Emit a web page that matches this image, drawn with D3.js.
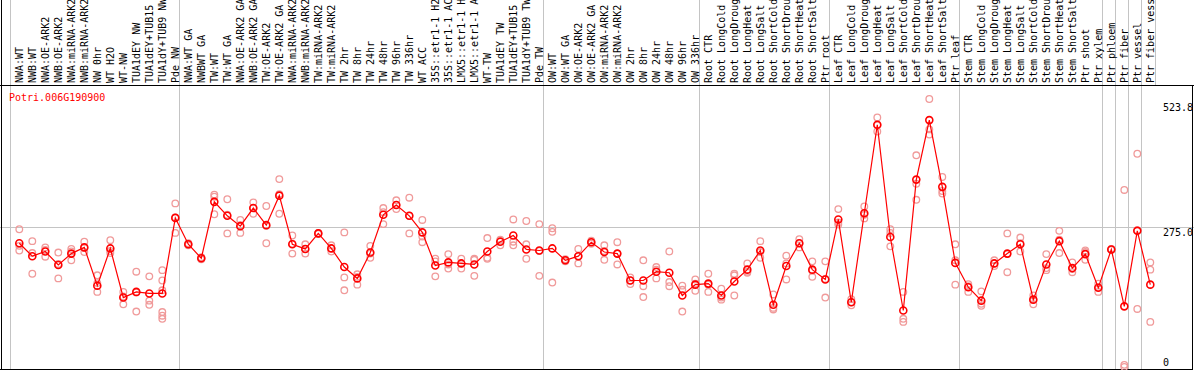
<!DOCTYPE html>
<html>
<head>
<meta charset="utf-8">
<script src="https://cdn.jsdelivr.net/npm/d3@7"></script>
<style>
  html, body { margin: 0; padding: 0; background: #fff; }
  svg { display: block; font-family: "DejaVu Sans Mono", monospace; }
</style>
</head>
<body>
<svg id="chart" width="1194" height="370"></svg>
<script>
const geneName = "Potri.006G190900";

const samples = [
  "NWA:WT", "NWB:WT", "NWA:OE-ARK2", "NWB:OE-ARK2", "NWA:miRNA-ARK2", "NWB:miRNA-ARK2",
  "NW 0hr", "WT H2O", "WT-NW", "TUA1dEY NW", "TUA1dEY+TUB15 NW", "TUA1dY+TUB9 NW", "Pde NW",
  "NWA:WT GA", "NWBWT GA", "TW:WT", "TW:WT GA", "NWA:OE-ARK2 GA", "NWB:OE-ARK2 GA",
  "TW:OE-ARK2", "TW:OE-ARK2 GA", "NWA:miRNA-ARK2 GA", "NWB:miRNA-ARK2 GA", "TW:miRNA-ARK2",
  "TW:miRNA-ARK2 GA", "TW 2hr", "TW 8hr", "TW 24hr", "TW 48hr", "TW 96hr", "TW 336hr",
  "WT ACC", "35S::etr1-1 H2O", "35S::etr1-1 ACC", "LMX5::etr1-1 H2O", "LMX5::etr1-1 ACC",
  "WT-TW", "TUA1dEY TW", "TUA1dEY+TUB15 TW", "TUA1dY+TUB9 TW", "Pde TW",
  "OW:WT", "OW:WT GA", "OW:OE-ARK2", "OW:OE-ARK2 GA", "OW:miRNA-ARK2", "OW:miRNA-ARK2 GA",
  "OW 2hr", "OW 8hr", "OW 24hr", "OW 48hr", "OW 96hr", "OW 336hr",
  "Root CTR", "Root LongCold", "Root LongDrought", "Root LongHeat", "Root LongSalt",
  "Root ShortCold", "Root ShortDrought", "Root ShortHeat", "Root ShortSalt", "Ptr root",
  "Leaf CTR", "Leaf LongCold", "Leaf LongDrought", "Leaf LongHeat", "Leaf LongSalt",
  "Leaf ShortCold", "Leaf ShortDrought", "Leaf ShortHeat", "Leaf ShortSalt", "Ptr leaf",
  "Stem CTR", "Stem LongCold", "Stem LongDrought", "Stem LongHeat", "Stem LongSalt",
  "Stem ShortCold", "Stem ShortDrought", "Stem ShortHeat", "Stem ShortSalt", "Ptr shoot",
  "Ptr xylem", "Ptr phloem", "Ptr fiber", "Ptr vessel", "Ptr fiber vessel"
];

// number of samples in each experiment block
const groupSizes = [13, 28, 12, 10, 10, 11, 1, 1, 1, 1];

const means = [
  245, 220, 229, 203, 225, 237, 163, 235, 140, 151, 148, 148, 294,
  243, 216, 325, 298, 278, 313, 280, 337, 243, 234, 264, 235, 199, 177, 227, 300, 319, 298,
  266, 202, 208, 206, 204, 229, 248, 260, 233, 231,
  235, 212, 220, 247, 228, 225, 173, 173, 190, 188, 144, 165,
  167, 144, 171, 194, 231, 126, 201, 245, 194, 175,
  291, 131, 303, 474, 257, 115, 368, 483, 354, 207,
  160, 134, 206, 225, 243, 136, 204, 249, 197, 224, 159,
  233, 123, 269, 165
];

const replicates = [
  [272, 231, 240], [249, 226, 186], [237, 219, 232], [227, 177, 205], [234, 212, 229],
  [248, 228, 236], [183, 151, 168], [251, 226, 230], [151, 127, 142], [190, 113, 150],
  [181, 134, 126], [193, 173, 154, 112, 105, 99], [322, 265, 295],
  [245, 241, 243], [216, 214, 218], [339, 335, 301], [330, 264, 300], [290, 265, 280],
  [324, 302, 313], [317, 245, 279], [369, 302, 340], [260, 225, 244], [243, 225, 234],
  [264, 263, 265], [241, 229, 235], [266, 179, 154], [185, 165, 180], [240, 217, 225],
  [313, 282, 305], [328, 311, 319], [333, 264, 298], [290, 258, 247], [215, 181, 210],
  [224, 196, 204], [215, 196, 206], [215, 182, 213], [255, 215, 217], [252, 241, 250],
  [291, 241, 248], [288, 243, 215], [282, 182, 230],
  [274, 267, 169], [212, 210, 214], [234, 206, 220], [244, 250, 247], [241, 213, 230],
  [247, 204, 225], [179, 166, 173], [212, 162, 141], [199, 177, 194], [229, 170, 162],
  [163, 113, 155], [175, 153, 167],
  [186, 151, 165], [157, 136, 140], [186, 144, 183], [206, 188, 190], [249, 217, 228],
  [146, 117, 120], [221, 175, 206], [253, 237, 245], [210, 180, 192], [210, 140, 176],
  [311, 281, 285], [137, 125, 131], [316, 293, 300], [488, 461, 473], [272, 265, 239],
  [151, 99, 93], [415, 360, 329], [523.8, 465, 455], [373, 346, 341], [243, 212, 165],
  [166, 151, 162], [152, 124, 128], [212, 201, 206], [264, 189, 224], [256, 229, 245],
  [144, 127, 136], [224, 193, 197], [269, 226, 252], [208, 189, 195], [231, 213, 228],
  [167, 151, 160],
  [233, 232, 234], [348, 10, 6], [418, 118, 270], [208, 194, 93]
];

const yTicks = [0, 275, 523.8];
const yTickLabels = ["0", "275.0", "523.8"];

const width = 1194;
const height = 370;
const labelBottom = 83;
const headerLine = 85.5;
const plotRight = 1192;

const svg = d3.select("#chart");

const x = d3
  .scaleLinear()
  .domain([0, samples.length - 1])
  .range([19.3, 1150.3]);

const y = d3
  .scaleLinear()
  .domain([0, d3.max(yTicks)])
  .range([370, 99]);

const snap = (v) => Math.round(v) + 0.5;

// block separators
const starts = d3.cumsum([0].concat(groupSizes.slice(0, -1)));
svg
  .append("g")
  .selectAll("line")
  .data(Array.from(starts))
  .join("line")
  .attr("x1", (d) => snap(x(d) - 9))
  .attr("x2", (d) => snap(x(d) - 9))
  .attr("y1", 0)
  .attr("y2", height)
  .attr("stroke", "#c4c4c4");

svg
  .append("line")
  .attr("x1", snap(x(samples.length - 1) + 4.5))
  .attr("x2", snap(x(samples.length - 1) + 4.5))
  .attr("y1", 0)
  .attr("y2", headerLine)
  .attr("stroke", "#c4c4c4");

// mid gridline
svg
  .append("line")
  .attr("x1", 0)
  .attr("x2", width)
  .attr("y1", snap(y(275) - 0.5))
  .attr("y2", snap(y(275) - 0.5))
  .attr("stroke", "#c4c4c4");

// frame
svg.append("line").attr("x1", 0).attr("x2", width).attr("y1", headerLine).attr("y2", headerLine).attr("stroke", "#000");
svg.append("line").attr("x1", 1.5).attr("x2", 1.5).attr("y1", 0).attr("y2", height).attr("stroke", "#000");
svg.append("line").attr("x1", 0).attr("x2", plotRight).attr("y1", 369.5).attr("y2", 369.5).attr("stroke", "#000");
svg.append("line").attr("x1", plotRight + 0.5).attr("x2", plotRight + 0.5).attr("y1", headerLine).attr("y2", height).attr("stroke", "#000");

// sample labels
svg
  .append("g")
  .selectAll("text")
  .data(samples)
  .join("text")
  .attr("transform", (d, i) => `translate(${x(i) + 4},${labelBottom}) rotate(-90)`)
  .attr("font-size", 10)
  .attr("fill", "#000")
  .text((d) => d);

// gene name
svg
  .append("text")
  .attr("x", 9)
  .attr("y", 101)
  .attr("font-size", 10)
  .attr("fill", "#ff0000")
  .text(geneName);

// y labels on the right
svg
  .append("g")
  .selectAll("text")
  .data(yTicks)
  .join("text")
  .attr("x", 1163)
  .attr("y", (d) => y(d))
  .attr("dy", (d) => (d === 0 ? -4 : d === d3.max(yTicks) ? 12 : 8))
  .attr("font-size", 10)
  .attr("fill", "#000")
  .text((d, i) => yTickLabels[i]);

// replicate points
const reps = replicates.flatMap((vals, i) => vals.map((v) => ({ i, v })));
svg
  .append("g")
  .selectAll("circle")
  .data(reps)
  .join("circle")
  .attr("cx", (d) => x(d.i))
  .attr("cy", (d) => y(d.v))
  .attr("r", 3.3)
  .attr("fill", "none")
  .attr("stroke", "#f09a9a")
  .attr("stroke-width", 1.3);

// mean line and points
const line = d3
  .line()
  .x((d, i) => x(i))
  .y((d) => y(d));

svg
  .append("path")
  .datum(means)
  .attr("fill", "none")
  .attr("stroke", "#ff0000")
  .attr("stroke-width", 1.2)
  .attr("d", line);

svg
  .append("g")
  .selectAll("circle")
  .data(means)
  .join("circle")
  .attr("cx", (d, i) => x(i))
  .attr("cy", (d) => y(d))
  .attr("r", 3.5)
  .attr("fill", "none")
  .attr("stroke", "#ff0000")
  .attr("stroke-width", 1.6);
</script>
</body>
</html>
